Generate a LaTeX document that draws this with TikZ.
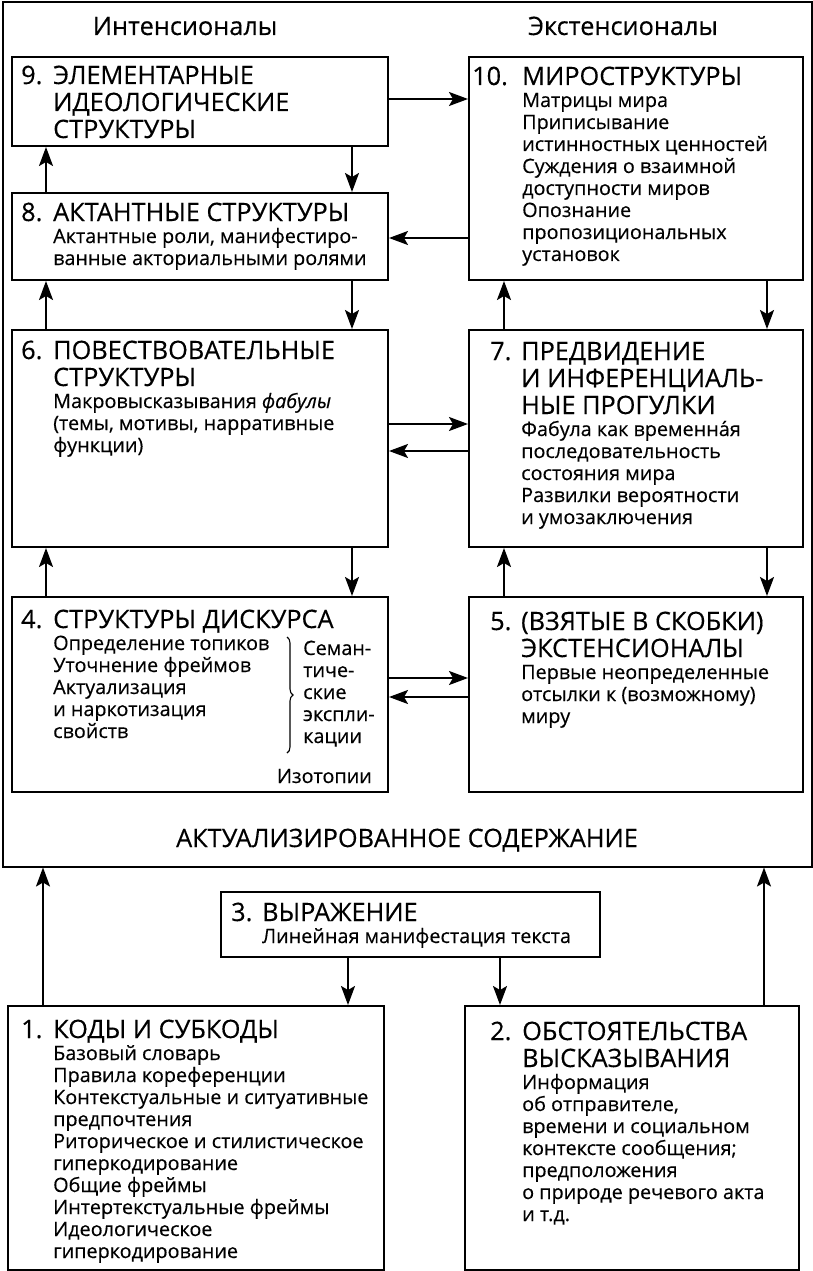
\documentclass[tikz,border=0pt]{standalone}
\usepackage{fontspec}
\setmainfont{Open Sans}[FakeBold=0.35]
\usetikzlibrary{arrows.meta,decorations.pathreplacing}
\newcommand\headf{\fontsize{25.3}{27}\selectfont}
\newcommand\bodyf{\fontsize{19.8}{22}\selectfont}
\newcommand\hb[2]{\parbox[t]{#1}{\raggedright #2}}
\begin{document}
\begin{tikzpicture}[x=1pt,y=-1pt,
  box/.style={draw, line width=2pt, rectangle, inner sep=0pt, anchor=north west},
  txt/.style={anchor=base west, inner sep=0pt},
  arr/.style={-{Stealth[length=19pt,width=14pt,inset=4pt]}, line width=2pt}]
\useasboundingbox (0,0) rectangle (813,1271);
% outer frame
\node[box, minimum width=809pt, minimum height=864pt] (frame) at (1.5,1.5) {};
\node[anchor=base, inner sep=0pt] (tI) at (185,35) {\headf Интенсионалы};
\node[anchor=base, inner sep=0pt] (tE) at (623,35) {\headf Экстенсионалы};
\node[anchor=base, inner sep=0pt] (tA) at (407,847) {\headf АКТУАЛИЗИРОВАННОЕ СОДЕРЖАНИЕ};
% boxes
\node[box, minimum width=376pt, minimum height=89pt] (b9) at (11,56) {};
\node[box, minimum width=376pt, minimum height=87pt] (b8) at (11,192) {};
\node[box, minimum width=376pt, minimum height=217pt] (b6) at (11,329) {};
\node[box, minimum width=376pt, minimum height=195pt] (b4) at (11,596) {};
\node[box, minimum width=334pt, minimum height=223pt] (b10) at (468,56) {};
\node[box, minimum width=334pt, minimum height=217pt] (b7) at (468,329) {};
\node[box, minimum width=334pt, minimum height=195pt] (b5) at (468,596) {};
\node[box, minimum width=379pt, minimum height=65pt] (b3) at (220,891) {};
\node[box, minimum width=376pt, minimum height=264pt] (b1) at (7,1005) {};
\node[box, minimum width=334pt, minimum height=264pt] (b2) at (464,1005) {};
% texts
\node[txt] (n9) at (21,84) {\headf 9.};
\node[txt] (t9) at (53,84) {\hb{330pt}{\headf ЭЛЕМЕНТАРНЫЕ\\ИДЕОЛОГИЧЕСКИЕ\\СТРУКТУРЫ}};
\node[txt] (n8) at (21,221) {\headf 8.};
\node[txt] (t8) at (53,221) {\hb{330pt}{\headf АКТАНТНЫЕ СТРУКТУРЫ\par\bodyf Актантные роли, манифестиро-\\ванные акториальными ролями\par}};
\node[txt] (n6) at (21,359) {\headf 6.};
\node[txt] (t6) at (53,359) {\hb{330pt}{\headf ПОВЕСТВОВАТЕЛЬНЫЕ\\СТРУКТУРЫ\par\bodyf Макровысказывания \textit{фабулы}\\(темы, мотивы, нарративные\\функции)\par}};
\node[txt] (n4) at (21,628) {\headf 4.};
\node[txt] (t4) at (53,628) {\hb{330pt}{\headf СТРУКТУРЫ ДИСКУРСА\par\bodyf Определение топиков\\Уточнение фреймов\\Актуализация\\и наркотизация\\свойств\par}};
\node[txt] (t4r) at (303,655) {\hb{80pt}{\bodyf Семан-\\тиче-\\ские\\экспли-\\кации\par}};
\node[anchor=base east, inner sep=0pt] (t4i) at (372,783) {\bodyf Изотопии};
\coordinate (br1) at (287,637);
\coordinate (br2) at (287,753);
\draw[decorate, decoration={brace, amplitude=6pt}, line width=1.1pt] (br1) -- (br2);
\node[txt] (n10) at (472,85) {\headf 10.};
\node[txt] (t10) at (522,85) {\hb{285pt}{\headf МИРОСТРУКТУРЫ\par\bodyf Матрицы мира\\Приписывание\\истинностных ценностей\\Суждения о взаимной\\доступности миров\\Опознание\\пропозициональных\\установок\par}};
\node[txt] (n7) at (490,360) {\headf 7.};
\node[txt] (t7) at (521,360) {\hb{285pt}{\headf ПРЕДВИДЕНИЕ\\И ИНФЕРЕНЦИАЛЬ-\\НЫЕ ПРОГУЛКИ\par\bodyf Фабула как временна́я\\последовательность\\состояния мира\\Развилки вероятности\\и умозаключения\par}};
\node[txt] (n5) at (490,630) {\headf 5.};
\node[txt] (t5) at (521,630) {\hb{285pt}{\headf (ВЗЯТЫЕ В СКОБКИ)\\ЭКСТЕНСИОНАЛЫ\par\bodyf Первые неопределенные\\отсылки к (возможному)\\миру\par}};
\node[txt] (n3) at (231,921) {\headf 3.};
\node[txt] (t3) at (262,921) {\hb{335pt}{\headf ВЫРАЖЕНИЕ\par\bodyf Линейная манифестация текста\par}};
\node[txt] (n1) at (21,1038) {\headf 1.};
\node[txt] (t1) at (53,1038) {\hb{330pt}{\headf КОДЫ И СУБКОДЫ\par\bodyf Базовый словарь\\Правила кореференции\\Контекстуальные и ситуативные\\предпочтения\\Риторическое и стилистическое\\гиперкодирование\\Общие фреймы\\Интертекстуальные фреймы\\Идеологическое\\гиперкодирование\par}};
\node[txt] (n2) at (490,1040) {\headf 2.};
\node[txt] (t2) at (522,1040) {\hb{285pt}{\headf ОБСТОЯТЕЛЬСТВА\\ВЫСКАЗЫВАНИЯ\par\bodyf Информация\\об отправителе,\\времени и социальном\\контексте сообщения;\\предположения\\о природе речевого акта\\и т.д.\par}};
% reference columns and levels
\coordinate (xL) at (46,0);
\coordinate (xR) at (352,0);
\coordinate (xL2) at (504,0);
\coordinate (xR2) at (767,0);
\coordinate (y99) at (0,99);
\coordinate (y238) at (0,238);
\coordinate (y424) at (0,424);
\coordinate (y451) at (0,451);
\coordinate (y678) at (0,678);
\coordinate (y697) at (0,697);
\coordinate (x43) at (43,0);
\coordinate (x764) at (764,0);
\coordinate (x348) at (348,0);
\coordinate (x500) at (500,0);
% vertical arrows left column
\draw[arr] (b9.south -| xR) -- (b8.north -| xR);
\draw[arr] (b8.north -| xL) -- (b9.south -| xL);
\draw[arr] (b8.south -| xR) -- (b6.north -| xR);
\draw[arr] (b6.north -| xL) -- (b8.south -| xL);
\draw[arr] (b6.south -| xR) -- (b4.north -| xR);
\draw[arr] (b4.north -| xL) -- (b6.south -| xL);
% vertical arrows right column
\draw[arr] (b10.south -| xR2) -- (b7.north -| xR2);
\draw[arr] (b7.north -| xL2) -- (b10.south -| xL2);
\draw[arr] (b7.south -| xR2) -- (b5.north -| xR2);
\draw[arr] (b5.north -| xL2) -- (b7.south -| xL2);
% horizontal arrows
\draw[arr] (b9.east |- y99) -- (b10.west |- y99);
\draw[arr] (b10.west |- y238) -- (b8.east |- y238);
\draw[arr] (b6.east |- y424) -- (b7.west |- y424);
\draw[arr] (b7.west |- y451) -- (b6.east |- y451);
\draw[arr] (b4.east |- y678) -- (b5.west |- y678);
\draw[arr] (b5.west |- y697) -- (b4.east |- y697);
% bottom arrows
\draw[arr] (b1.north -| x43) -- (frame.south -| x43);
\draw[arr] (b2.north -| x764) -- (frame.south -| x764);
\draw[arr] (b3.south -| x348) -- (b1.north -| x348);
\draw[arr] (b3.south -| x500) -- (b2.north -| x500);
\end{tikzpicture}
\end{document}
